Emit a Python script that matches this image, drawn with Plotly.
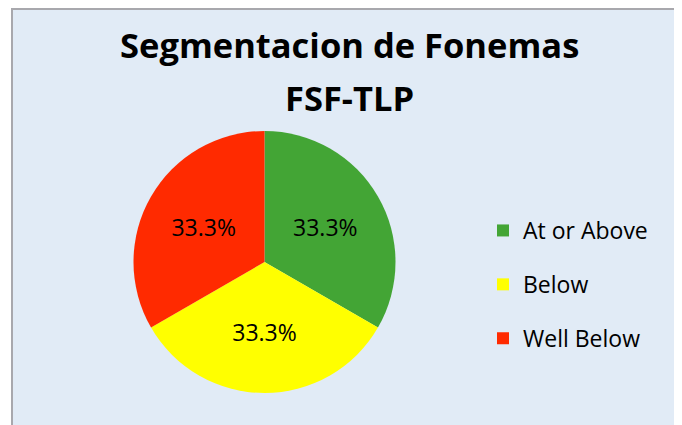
import plotly.graph_objects as go

categories = ["At or Above", "Below", "Well Below"]
values = [1, 1, 1]
colors = ["#43A535", "#FFFF00", "#FF2A00"]
title_lines = ["Segmentacion de Fonemas", "FSF-TLP"]

W, H = 682, 425
FONT = "Open Sans"

# the page shows the figure offset by 8px (body margin); coordinates below are figure px
fig = go.Figure()

fig.add_trace(go.Pie(
    labels=categories,
    values=values,
    sort=False,
    direction="clockwise",
    rotation=0,
    marker=dict(colors=colors, line=dict(width=0)),
    textinfo="percent",
    texttemplate="%{percent:.1%}",
    textposition="inside",
    insidetextorientation="horizontal",
    textfont=dict(family=FONT, size=23, color="black"),
    hoverinfo="label+percent",
    showlegend=False,
    domain=dict(x=[125.5 / W, 387.5 / W], y=[40 / H, 302 / H]),
))

for i, (cat, col) in enumerate(zip(categories, colors)):
    fig.add_trace(go.Scatter(
        x=[None], y=[None], mode="markers", name=cat,
        marker=dict(symbol="square", size=15, color=col),
        legendgroup=f"g{i}", showlegend=True, hoverinfo="skip",
    ))

fig.update_layout(
    width=W, height=H,
    margin=dict(l=0, r=0, t=0, b=0),
    paper_bgcolor="white",
    plot_bgcolor="rgba(0,0,0,0)",
    xaxis=dict(visible=False),
    yaxis=dict(visible=False),
    showlegend=True,
    legend=dict(
        x=475 / W, xanchor="left",
        y=1 - 201 / H, yanchor="top",
        traceorder="grouped",
        tracegroupgap=21,
        font=dict(family=FONT, size=23, color="black"),
        bgcolor="rgba(0,0,0,0)",
        itemsizing="constant",
    ),
    shapes=[dict(
        type="rect", xref="paper", yref="paper",
        x0=4 / W, x1=1.05, y0=-0.05, y1=1 - 1 / H,
        fillcolor="#E1EBF6", line=dict(color="#A8A8AD", width=2),
        layer="below",
    )],
    annotations=[
        dict(text=title_lines[0], x=341 / W, y=1 - 37 / H, xref="paper", yref="paper",
             showarrow=False, xanchor="center", yanchor="middle",
             font=dict(family=FONT, size=34.5, color="black", weight="bold")),
        dict(text=title_lines[1], x=341 / W, y=1 - 89 / H, xref="paper", yref="paper",
             showarrow=False, xanchor="center", yanchor="middle",
             font=dict(family=FONT, size=34.5, color="black", weight="bold")),
    ],
)

fig.write_html("out.html")
